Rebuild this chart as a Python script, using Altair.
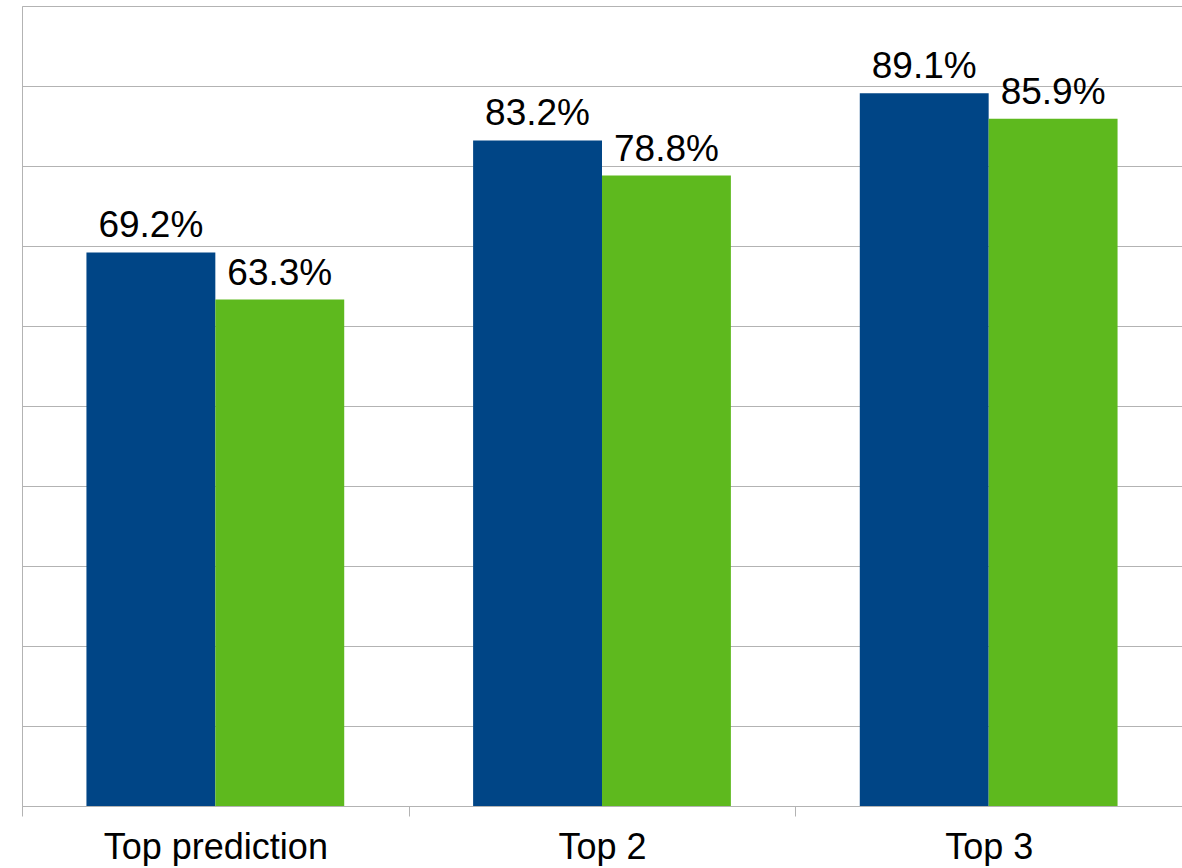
import altair as alt
import pandas as pd

# Accuracy per ranking cut-off, two series side by side
categories = ["Top prediction", "Top 2", "Top 3"]
series = ["A", "B"]
values_a = [0.692, 0.832, 0.891]
values_b = [0.633, 0.788, 0.859]
grid_values = [i / 10 for i in range(11)]
colors = ["#004586", "#5eb91e"]

rows = []
for cat, va, vb in zip(categories, values_a, values_b):
    rows.append({"category": cat, "series": series[0], "value": va})
    rows.append({"category": cat, "series": series[1], "value": vb})
df = pd.DataFrame(rows)

axis_gray = "#b3b3b3"

base = alt.Chart(df).encode(
    x=alt.X(
        "category:N",
        sort=categories,
        scale=alt.Scale(paddingInner=0, paddingOuter=0),
        axis=alt.Axis(
            title=None,
            labelAngle=0,
            labelLimit=0,
            tickBand="extent",
            grid=False,
            domainColor=axis_gray,
            tickColor=axis_gray,
            tickSize=10,
            labelFont="Liberation Sans",
            labelFontSize=36,
            labelColor="black",
            labelBaseline="alphabetic",
            labelPadding=42,
        ),
    ),
    xOffset=alt.XOffset(
        "series:N", sort=series, scale=alt.Scale(paddingInner=0, paddingOuter=0.5)
    ),
    y=alt.Y(
        "value:Q",
        scale=alt.Scale(domain=[0, 1]),
        axis=alt.Axis(
            title=None,
            labels=False,
            ticks=False,
            values=grid_values,
            grid=True,
            gridColor=axis_gray,
            domainColor=axis_gray,
        ),
    ),
)

bars = base.mark_bar().encode(
    color=alt.Color(
        "series:N", sort=series, scale=alt.Scale(domain=series, range=colors), legend=None
    )
)

labels = base.mark_text(
    font="Liberation Sans", fontSize=37, baseline="alphabetic", dy=-15, color="black"
).encode(text=alt.Text("value:Q", format=".1%"))

chart = (
    alt.layer(bars, labels)
    .properties(
        width=1160,
        height=800,
        autosize=alt.AutoSizeParams(type="none"),
        padding={"left": 22, "top": 6, "right": 0, "bottom": 60},
    )
    .configure_view(stroke=None)
    .configure(background="white")
)

chart.save("out.html", embed_options={"renderer": "svg", "actions": False})
